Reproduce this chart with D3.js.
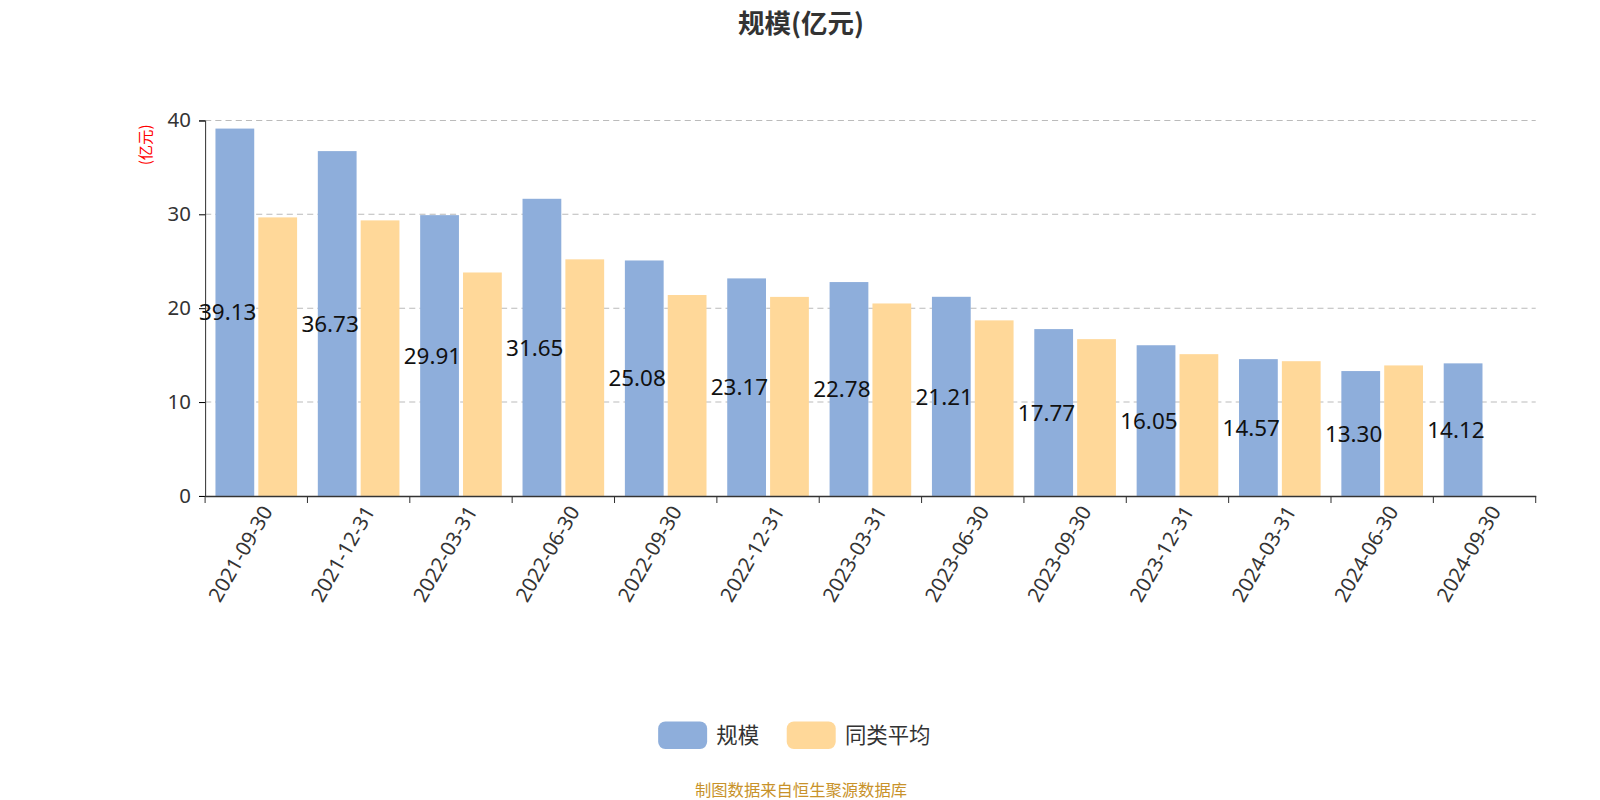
<!DOCTYPE html>
<html><head><meta charset="utf-8">
<script src="https://cdn.jsdelivr.net/npm/d3@7/dist/d3.min.js"></script>
<style>body{margin:0;background:#fff;font-family:"Noto Sans CJK SC","Noto Sans",sans-serif;}</style>
</head><body><svg id="c" width="1600" height="800"></svg>
<script>
const categories=["2021-09-30","2021-12-31","2022-03-31","2022-06-30","2022-09-30","2022-12-31","2023-03-31","2023-06-30","2023-09-30","2023-12-31","2024-03-31","2024-06-30","2024-09-30"];
const scaleValues=[39.13,36.73,29.91,31.65,25.08,23.17,22.78,21.21,17.77,16.05,14.57,13.30,14.12];
const avgValues=[29.67,29.35,23.8,25.2,21.4,21.2,20.5,18.7,16.7,15.1,14.35,13.9,null];
const yTicks=[0,10,20,30,40];
const seriesNames=["规模","同类平均"];
const colors=["#8eaedb","#ffd899"];

const svg=d3.select("#c").append("g").attr("transform","scale(1.0204)");
const L=201,R=1505,T=118,B=486;
const x=d3.scaleBand().domain(categories).range([L,R]);
const y=d3.scaleLinear().domain([0,40]).range([B,T]);
const bw=38,gap=4;

svg.append("text").attr("x",785).attr("y",32).attr("text-anchor","middle").attr("font-size",26).attr("font-weight","bold").attr("fill","#333").text("规模(亿元)");

yTicks.forEach(t=>{ if(t>0) svg.append("line").attr("x1",L).attr("x2",R).attr("y1",y(t)).attr("y2",y(t)).attr("stroke","#bbb").attr("stroke-dasharray","6,4");});
const ya=svg.append("g").attr("transform",`translate(${L},0)`).call(d3.axisLeft(y).tickValues(yTicks).tickSize(6).tickPadding(8));
ya.selectAll("text").attr("font-size",20).attr("fill","#333").attr("font-family","Noto Sans, sans-serif");
ya.select(".domain").attr("stroke","#333");
svg.append("text").attr("transform","translate(148,142) rotate(-90)").attr("text-anchor","middle").attr("font-size",15).attr("fill","red").text("(亿元)");

categories.forEach((c,i)=>{
  const x0=x(c)+x.bandwidth()/2;
  svg.append("rect").attr("x",x0-bw-gap/2).attr("y",y(scaleValues[i])).attr("width",bw).attr("height",B-y(scaleValues[i])).attr("fill",colors[0]);
  if(avgValues[i]!=null) svg.append("rect").attr("x",x0+gap/2).attr("y",y(avgValues[i])).attr("width",bw).attr("height",B-y(avgValues[i])).attr("fill",colors[1]);
});
categories.forEach((c,i)=>{
  const x0=x(c)+x.bandwidth()/2;
  svg.append("text").attr("x",x0-bw/2-gap/2-7).attr("y",(y(scaleValues[i])+B)/2+8).attr("text-anchor","middle").attr("font-size",22).attr("fill","#111").attr("font-family","Noto Sans, sans-serif").text(scaleValues[i].toFixed(2));
});

const xa=svg.append("g").attr("transform",`translate(0,${B})`).call(d3.axisBottom(x).tickSize(0));
xa.select(".domain").attr("stroke","#333").attr("stroke-width",1.5);
const edges=categories.map(c=>x(c)).concat([R]);
edges.forEach(e=>svg.append("line").attr("x1",e).attr("x2",e).attr("y1",B).attr("y2",B+7).attr("stroke","#333"));
xa.selectAll("text").attr("font-size",20).attr("fill","#333").attr("font-family","Noto Sans, sans-serif")
  .attr("text-anchor","end").attr("transform","translate(8,10) rotate(-60)").attr("dy","0.35em").attr("dx","0");

const lg=[[645,"规模"],[771,"同类平均"]];
lg.forEach((d,i)=>{
  svg.append("rect").attr("x",d[0]).attr("y",707).attr("width",48).attr("height",27).attr("rx",7).attr("fill",colors[i]);
  svg.append("text").attr("x",d[0]+57).attr("y",728).attr("font-size",21).attr("fill","#333").text(seriesNames[i]);
});
svg.append("text").attr("x",785).attr("y",780).attr("text-anchor","middle").attr("font-size",16).attr("fill","#c8922a").text("制图数据来自恒生聚源数据库");
</script></body></html>
